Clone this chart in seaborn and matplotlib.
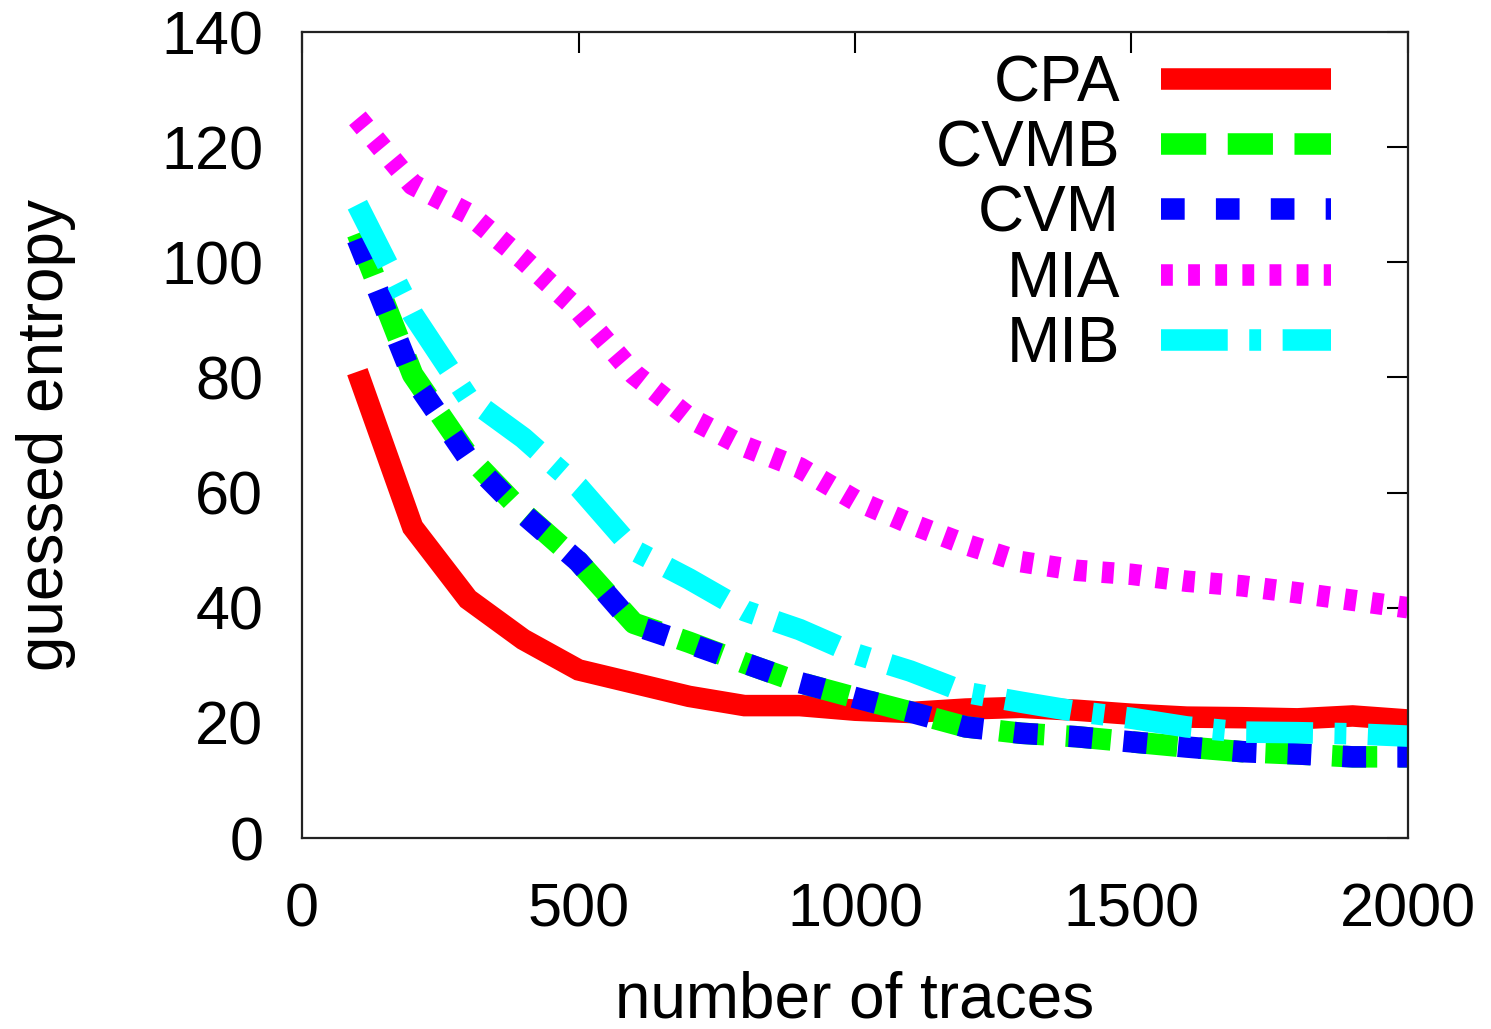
import numpy as np
import pandas as pd
import matplotlib
matplotlib.use("Agg")
import matplotlib.pyplot as plt
import seaborn as sns

# number of traces used per attack
traces = [100, 200, 300, 400, 500, 600, 700, 800, 900, 1000,
          1100, 1200, 1300, 1400, 1500, 1600, 1700, 1800, 1900, 2000]

# guessed entropy
cpa  = [81, 54, 41.5, 34.5, 29.2, 26.9, 24.6, 23, 23, 22.2,
        21.8, 22.4, 22.7, 22.2, 21.5, 21.0, 20.9, 20.7, 21.2, 20.5]
cvmb = [105, 80.5, 66.5, 56.5, 48, 37.3, 34, 30.4, 27, 24.4,
        21.9, 19.3, 18.2, 17.6, 16.7, 15.8, 15.0, 14.6, 14.1, 14.1]
cvm  = [104, 80, 66, 56.3, 48, 37, 33.8, 30.4, 27, 24.4,
        21.9, 19.3, 18.2, 17.6, 16.7, 15.8, 15.0, 14.6, 14.1, 14.1]
mia  = [125, 113.5, 108.5, 100.5, 91.7, 80.6, 73, 68, 64.3, 58.7,
        54.6, 51, 48, 46.5, 45.8, 44.6, 43.8, 42.6, 41.3, 40]
mib  = [110, 91, 76.5, 69.5, 61, 50, 45, 39.5, 36.2, 32,
        29, 25.3, 23.6, 22, 20.8, 19.3, 18.4, 18.3, 18.1, 17.7]

methods = ["CPA", "CVMB", "CVM", "MIA", "MIB"]
colors = ["#ff0000", "#00ff00", "#0000ff", "#ff00ff", "#00ffff"]
dash_styles = ["", (2.1, 1.0), (1.1, 1.45), (0.55, 0.71), (3.1, 1.0, 0.55, 1.0)]

series = [cpa, cvmb, cvm, mia, mib]
df = pd.concat([
    pd.DataFrame({"traces": traces, "entropy": vals, "method": name})
    for name, vals in zip(methods, series)
], ignore_index=True)

sns.set_style("white")
plt.rcParams["font.family"] = ["Liberation Sans", "DejaVu Sans"]
plt.rcParams.update({"text.color": "black", "axes.labelcolor": "black",
                     "xtick.color": "black", "ytick.color": "black"})

fig, ax = plt.subplots(figsize=(14.91, 10.29), dpi=100)
fig.subplots_adjust(left=0.2026, right=0.9443, bottom=0.1856, top=0.9689)

sns.lineplot(data=df, x="traces", y="entropy", hue="method", style="method",
             hue_order=methods, style_order=methods,
             palette=dict(zip(methods, colors)),
             dashes=dict(zip(methods, dash_styles)),
             linewidth=15.5, estimator=None, sort=False, legend=False, ax=ax)

lines = ax.get_lines()
for ln in lines:
    ln.set_dash_capstyle("butt")
    ln.set_solid_capstyle("butt")
    ln.set_solid_joinstyle("miter")

ax.set_xlim(0, 2000)
ax.set_ylim(0, 140)
ax.set_xticks(np.arange(0, 2001, 500))
ax.set_yticks(np.arange(0, 141, 20))

for sp in ax.spines.values():
    sp.set_visible(True)
    sp.set_color("#222222")
    sp.set_linewidth(1.6)

ax.tick_params(direction="in", length=15, width=1.5, top=True, right=True,
               labelsize=44)
ax.tick_params(axis="x", pad=32)
ax.tick_params(axis="y", pad=28)

ax.set_xlabel("number of traces", fontsize=46, labelpad=22)
ax.set_ylabel("guessed entropy", fontsize=46, labelpad=61)

ax.legend(lines, methods, loc="upper right", bbox_to_anchor=(0.9304, 0.972),
          frameon=False, markerfirst=False, fontsize=46,
          handlelength=2.66, handletextpad=0.64, labelspacing=0.08,
          borderpad=0, borderaxespad=0)

plt.savefig("out.png", dpi=100)
